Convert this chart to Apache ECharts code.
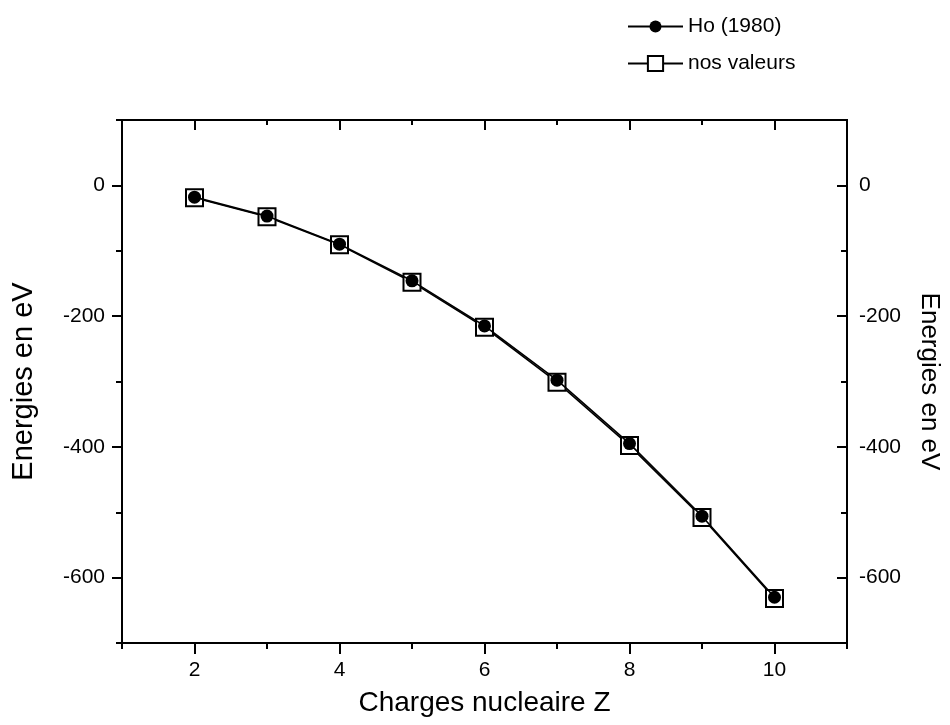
<!DOCTYPE html>
<html>
<head>
<meta charset="utf-8">
<script src="https://cdn.jsdelivr.net/npm/echarts@6/dist/echarts.min.js"></script>
<style>
  html, body { margin: 0; padding: 0; background: #fff; }
  #chart { width: 950px; height: 725px; }
</style>
</head>
<body>
<div id="chart"></div>
<script>
const zValues = [2, 3, 4, 5, 6, 7, 8, 9, 10];
const hoEnergies = [-18, -47, -90, -146, -215, -298, -395, -506, -630];
const nosEnergies = [-19, -48, -91, -148, -217, -301, -398, -508, -632];

const xMajorTicks = [2, 4, 6, 8, 10];
const xMinorTicks = [1, 3, 5, 7, 9, 11];
const yMajorTicks = [-600, -400, -200, 0];
const yMinorTicks = [-700, -500, -300, -100, 100];

const font = 'Liberation Sans, Arial, sans-serif';
const black = '#000';

function xAxis(position, ticks, len, inside, labels) {
  return {
    type: 'value', position: position, min: 1, max: 11,
    axisLine: { show: true, onZero: false, lineStyle: { color: black, width: 2 } },
    axisTick: { show: true, inside: inside, length: len, customValues: ticks,
                lineStyle: { color: black, width: 2 } },
    axisLabel: labels ? { show: true, customValues: labels, color: black,
                fontSize: 21, fontFamily: font, margin: 17 } : { show: false },
    splitLine: { show: false }
  };
}

function yAxis(position, ticks, len, inside, labels, margin) {
  return {
    type: 'value', position: position, min: -700, max: 100,
    axisLine: { show: true, onZero: false, lineStyle: { color: black, width: 2 } },
    axisTick: { show: true, inside: inside, length: len, customValues: ticks,
                lineStyle: { color: black, width: 2 } },
    axisLabel: labels ? { show: true, customValues: labels, color: black,
                fontSize: 21, fontFamily: font, margin: margin } : { show: false },
    splitLine: { show: false }
  };
}

const xAxes = [
  xAxis('bottom', xMajorTicks, 11, false, xMajorTicks),
  xAxis('bottom', xMinorTicks, 6, false, null),
  xAxis('top', xMajorTicks, 10, true, null),
  xAxis('top', xMinorTicks, 5, true, null)
];
xAxes[0].name = 'Charges nucleaire Z';
xAxes[0].nameLocation = 'middle';
xAxes[0].nameGap = 46;
xAxes[0].nameTextStyle = { color: black, fontSize: 28, fontFamily: font };

const yAxes = [
  yAxis('left', yMajorTicks, 10, false, yMajorTicks, 17),
  yAxis('left', yMinorTicks, 6, false, null),
  yAxis('right', yMajorTicks, 10, true, yMajorTicks, 12),
  yAxis('right', yMinorTicks, 6, true, null)
];
yAxes[0].name = 'Energies en eV';
yAxes[0].nameLocation = 'middle';
yAxes[0].nameRotate = 90;
yAxes[0].nameGap = 84;
yAxes[0].nameTextStyle = { color: black, fontSize: 29, fontFamily: font };
yAxes[2].name = 'Energies en eV';
yAxes[2].nameLocation = 'middle';
yAxes[2].nameRotate = -90;
yAxes[2].nameGap = 69;
yAxes[2].nameTextStyle = { color: black, fontSize: 26, fontFamily: font };

const chart = echarts.init(document.getElementById('chart'));
chart.setOption({
  animation: false,
  backgroundColor: '#fff',
  grid: { left: 122, right: 100, top: 120, bottom: 82 },
  legend: [
    {
      data: ['Ho (1980)'], left: 622, top: 11, itemWidth: 55, itemHeight: 15, itemGap: 6,
      textStyle: { color: black, fontSize: 21, fontFamily: font }
    },
    {
      data: ['nos valeurs'], left: 622, top: 48, itemWidth: 55, itemHeight: 19, itemGap: 6,
      textStyle: { color: black, fontSize: 21, fontFamily: font }
    }
  ],
  xAxis: xAxes,
  yAxis: yAxes,
  series: [
    {
      name: 'nos valeurs', type: 'line', xAxisIndex: 0, yAxisIndex: 0, z: 2,
      data: zValues.map((z, i) => [z, nosEnergies[i]]),
      symbol: 'rect', symbolSize: 17,
      itemStyle: { color: '#fff', borderColor: black, borderWidth: 2 },
      lineStyle: { color: black, width: 1.6 }
    },
    {
      name: 'Ho (1980)', type: 'line', xAxisIndex: 0, yAxisIndex: 0, z: 3,
      data: zValues.map((z, i) => [z, hoEnergies[i]]),
      symbol: 'circle', symbolSize: 13,
      itemStyle: { color: black },
      lineStyle: { color: black, width: 1.6 }
    }
  ]
});
</script>
</body>
</html>
